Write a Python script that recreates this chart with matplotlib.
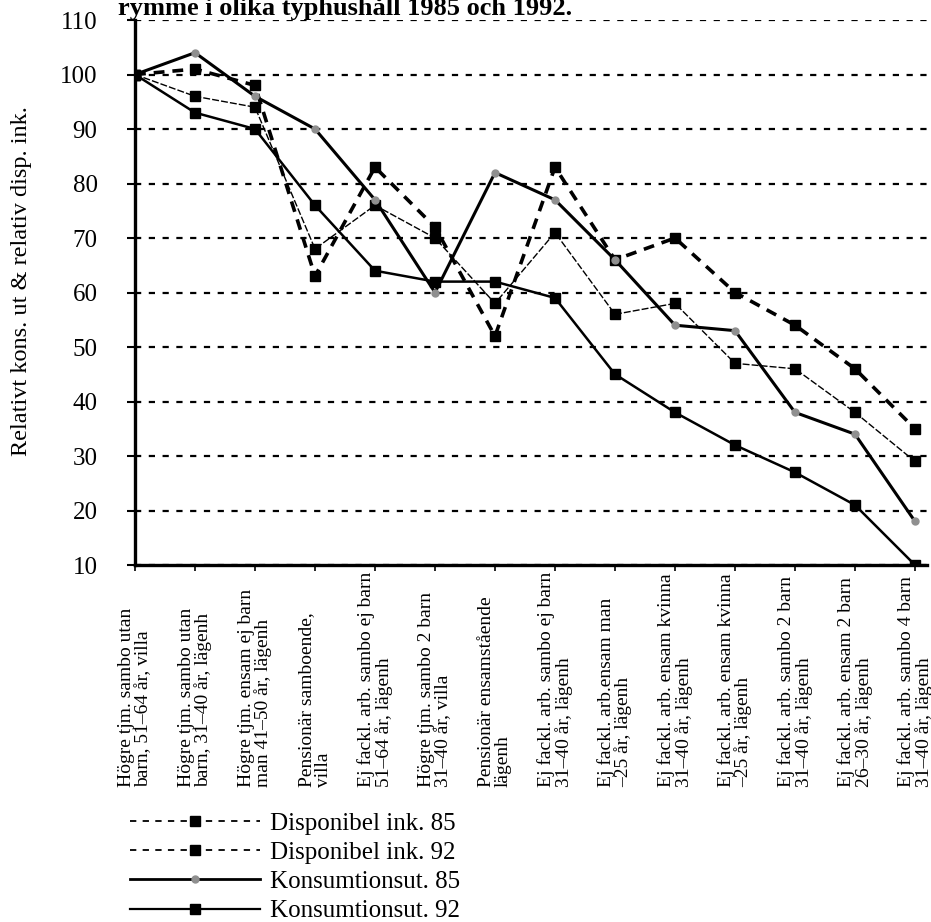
import matplotlib
matplotlib.use("Agg")
import matplotlib.pyplot as plt
from matplotlib.lines import Line2D

plt.rcParams["font.family"] = ["Liberation Serif", "DejaVu Serif"]

# Hushållstyper (x-axel)
categories = [
    "Högre tjm. sambo utan\nbarn, 51–64 år, villa",
    "Högre tjm. sambo utan\nbarn, 31–40 år, lägenh",
    "Högre tjm. ensam ej barn\nman 41–50 år, lägenh",
    "Pensionär samboende,\nvilla",
    "Ej fackl. arb. sambo ej barn\n51–64 år, lägenh",
    "Högre tjm. sambo 2 barn\n31–40 år, villa",
    "Pensionär ensamstående\nlägenh",
    "Ej fackl. arb. sambo ej barn\n31–40 år, lägenh",
    "Ej fackl. arb.ensam man\n–25 år, lägenh",
    "Ej fackl. arb. ensam kvinna\n31–40 år, lägenh",
    "Ej fackl. arb. ensam kvinna\n–25 år, lägenh",
    "Ej fackl. arb. sambo 2 barn\n31–40 år, lägenh",
    "Ej fackl. arb. ensam 2 barn\n26–30 år, lägenh",
    "Ej fackl. arb. sambo 4 barn\n31–40 år, lägenh",
]

disp_85 = [100, 101, 98, 63, 83, 72, 52, 83, 66, 70, 60, 54, 46, 35]
disp_92 = [100, 96, 94, 68, 76, 70, 58, 71, 56, 58, 47, 46, 38, 29]
kons_85 = [100, 104, 96, 90, 77, 60, 82, 77, 66, 54, 53, 38, 34, 18]
kons_92 = [100, 93, 90, 76, 64, 62, 62, 59, 45, 38, 32, 27, 21, 10]

y_ticks = [10, 20, 30, 40, 50, 60, 70, 80, 90, 100, 110]

legend_labels = ["Disponibel ink. 85", "Disponibel ink. 92",
                 "Konsumtionsut. 85", "Konsumtionsut. 92"]

GREY = "#8f8f8f"


def main():
    fig = plt.figure(figsize=(9.31, 9.22), dpi=100)
    ax = fig.add_axes([135 / 931, 357 / 922, 792 / 931, 545 / 922])

    x = list(range(len(categories)))

    ax.plot(x, disp_85, color="black", lw=2.6, ls=(0, (3, 2.2)),
            marker="s", ms=7, mfc="black", mec="black", zorder=4)
    ax.plot(x, disp_92, color="black", lw=1.0, ls=(0, (5, 1.5)),
            marker="s", ms=7, mfc="black", mec="black", zorder=4)
    ax.plot(x, kons_85, color="black", lw=2.2, ls="-",
            marker="o", ms=5, mfc=GREY, mec=GREY, zorder=5)
    ax.plot(x, kons_92, color="black", lw=1.8, ls="-",
            marker="s", ms=7, mfc="black", mec="black", zorder=5)

    ax.set_xlim(0, 13.2)
    ax.set_ylim(10, 110)
    ax.set_yticks(y_ticks)
    ax.set_xticks(x)
    ax.set_xticklabels([])

    ax.yaxis.grid(True, color="black", lw=1.6, ls=(0, (2.8, 3.4)))
    ax.set_axisbelow(True)

    for side in ["top", "right"]:
        ax.spines[side].set_visible(False)
    for side in ["left", "bottom"]:
        ax.spines[side].set_linewidth(2.4)

    ax.tick_params(axis="y", length=6, width=1.5, pad=21, labelsize=18)
    ax.tick_params(axis="x", length=4, width=1.2)

    # kategorietiketter, vänsterjusterade nedtill och roterade
    for i, lab in enumerate(categories):
        ax.text(i, -0.407, lab, transform=ax.get_xaxis_transform(),
                rotation=90, ha="center", va="bottom", fontsize=14,
                linespacing=0.95, multialignment="left")

    fig.text(22 / 931, 1 - 281 / 922, "Relativt kons. ut & relativ disp. ink.",
             rotation=90, ha="center", va="center", fontsize=17.5)

    fig.text(118 / 931, 1 - 15 / 922, "rymme i olika typhushåll 1985 och 1992.",
             fontsize=19, fontweight="bold", ha="left", va="baseline")

    handles = [
        Line2D([], [], color="black", lw=1.3, ls=(0, (3.5, 3.5)),
               marker="s", ms=7, mfc="black", mec="black"),
        Line2D([], [], color="black", lw=1.3, ls=(0, (3.5, 3.5)),
               marker="s", ms=7, mfc="black", mec="black"),
        Line2D([], [], color="black", lw=2.0, ls="-",
               marker="o", ms=5, mfc=GREY, mec=GREY),
        Line2D([], [], color="black", lw=1.6, ls="-",
               marker="s", ms=7, mfc="black", mec="black"),
    ]
    fig.legend(handles, legend_labels, loc="upper left",
               bbox_to_anchor=(130 / 931, 1 - 812 / 922),
               bbox_transform=fig.transFigure, frameon=False, fontsize=18,
               numpoints=1, handlelength=5.2, handletextpad=0.4,
               labelspacing=0.27, borderpad=0, borderaxespad=0)

    fig.savefig("out.png", dpi=100)
    plt.close(fig)


if __name__ == "__main__":
    main()
